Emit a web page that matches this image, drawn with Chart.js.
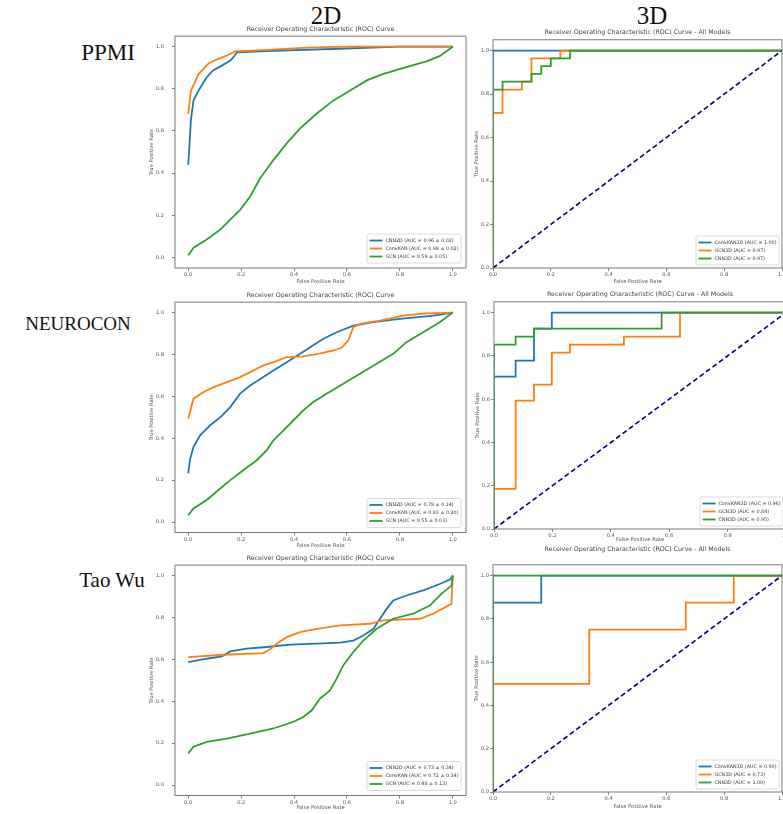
<!DOCTYPE html>
<html lang="en">
<head>
<meta charset="UTF-8">
<title>ROC curves 2D / 3D</title>
<script src="https://cdn.jsdelivr.net/npm/chart.js"></script>
<style>
  body { margin: 0; width: 783px; height: 814px; overflow: hidden; background: #fff; position: relative; }
  .lbl { position: absolute; font-family: "Liberation Serif", "Times New Roman", serif; color: #111;
         white-space: nowrap; transform: translate(-50%, -50%); line-height: 1; }
  canvas { position: absolute; }
</style>
</head>
<body>
<div class="lbl" style="left:326px; top:15px; font-size:25px;">2D</div>
<div class="lbl" style="left:652px; top:15px; font-size:25px;">3D</div>
<div class="lbl" style="left:108px; top:52px; font-size:23px;">PPMI</div>
<div class="lbl" style="left:78px; top:323px; font-size:19px;">NEUROCON</div>
<div class="lbl" style="left:112px; top:580px; font-size:21px;">Tao Wu</div>

<canvas id="ppmi2d"></canvas>
<canvas id="neuro2d"></canvas>
<canvas id="taowu2d"></canvas>
<canvas id="ppmi3d"></canvas>
<canvas id="neuro3d"></canvas>
<canvas id="taowu3d"></canvas>

<script>
// ---- data: [false positive rate, true positive rate] ----
const tickValues = [0, 0.2, 0.4, 0.6, 0.8, 1.0];
const diagonal = [[0, 0], [1, 1]];

const ppmi2D_CNN2D = [[0,0.44],[0.005,0.54],[0.01,0.65],[0.02,0.745],[0.043,0.80],[0.07,0.855],[0.094,0.887],[0.127,0.91],[0.159,0.934],[0.171,0.95],[0.184,0.973],[0.32,0.98],[0.57,0.99],[0.8,1.0],[1,1]];
const ppmi2D_ConvKAN = [[0,0.68],[0.01,0.79],[0.039,0.87],[0.077,0.92],[0.109,0.94],[0.146,0.958],[0.178,0.978],[0.3,0.985],[0.45,0.995],[0.6,1.0],[1,1]];
const ppmi2D_GCN = [[0,0.01],[0.02,0.046],[0.07,0.085],[0.121,0.132],[0.171,0.195],[0.196,0.226],[0.234,0.289],[0.272,0.376],[0.322,0.462],[0.372,0.541],[0.423,0.612],[0.486,0.683],[0.549,0.745],[0.612,0.792],[0.675,0.84],[0.738,0.871],[0.801,0.895],[0.9,0.93],[0.95,0.955],[1,1]];
const ppmi2D_labels = ['CNN2D (AUC = 0.96 ± 0.02)', 'ConvKAN (AUC = 0.98 ± 0.02)', 'GCN (AUC = 0.59 ± 0.05)'];

const neuro2D_CNN2D = [[0,0.232],[0.007,0.3],[0.02,0.359],[0.045,0.414],[0.083,0.462],[0.121,0.5],[0.159,0.549],[0.196,0.613],[0.234,0.652],[0.284,0.692],[0.322,0.724],[0.372,0.763],[0.423,0.803],[0.461,0.835],[0.511,0.875],[0.561,0.906],[0.624,0.938],[0.7,0.954],[0.8,0.97],[0.926,0.986],[1,1]];
const neuro2D_ConvKAN = [[0,0.494],[0.02,0.589],[0.058,0.621],[0.096,0.644],[0.146,0.668],[0.196,0.692],[0.234,0.716],[0.284,0.748],[0.322,0.763],[0.372,0.787],[0.429,0.79],[0.492,0.803],[0.549,0.819],[0.58,0.832],[0.605,0.867],[0.624,0.93],[0.649,0.946],[0.725,0.962],[0.813,0.986],[0.9,0.996],[1,1]];
const neuro2D_GCN = [[0,0.033],[0.02,0.065],[0.07,0.105],[0.121,0.16],[0.159,0.2],[0.209,0.248],[0.259,0.295],[0.297,0.343],[0.322,0.39],[0.36,0.438],[0.398,0.486],[0.435,0.533],[0.473,0.573],[0.523,0.613],[0.586,0.66],[0.649,0.708],[0.712,0.756],[0.775,0.803],[0.825,0.859],[0.888,0.906],[0.951,0.954],[1,1]];
const neuro2D_labels = ['CNN2D (AUC = 0.78 ± 0.14)', 'ConvKAN (AUC = 0.83 ± 0.20)', 'GCN (AUC = 0.55 ± 0.03)'];

const taowu2D_CNN2D = [[0,0.587],[0.07,0.603],[0.127,0.614],[0.159,0.638],[0.22,0.651],[0.297,0.659],[0.385,0.67],[0.486,0.675],[0.574,0.68],[0.624,0.69],[0.662,0.714],[0.7,0.746],[0.725,0.794],[0.75,0.841],[0.775,0.881],[0.825,0.905],[0.888,0.929],[0.951,0.96],[0.989,0.981],[1,1]];
const taowu2D_ConvKAN = [[0,0.611],[0.133,0.622],[0.284,0.63],[0.31,0.648],[0.335,0.675],[0.372,0.706],[0.423,0.73],[0.486,0.746],[0.574,0.762],[0.687,0.77],[0.737,0.786],[0.876,0.794],[0.926,0.818],[0.995,0.865],[1,1]];
const taowu2D_GCN = [[0,0.151],[0.02,0.183],[0.07,0.206],[0.146,0.222],[0.234,0.246],[0.322,0.27],[0.398,0.302],[0.435,0.325],[0.467,0.357],[0.498,0.413],[0.536,0.452],[0.561,0.508],[0.586,0.571],[0.624,0.635],[0.662,0.69],[0.712,0.746],[0.775,0.794],[0.85,0.818],[0.913,0.857],[0.957,0.913],[0.995,0.952],[1,1]];
const taowu2D_labels = ['CNN2D (AUC = 0.73 ± 0.34)', 'ConvKAN (AUC = 0.72 ± 0.34)', 'GCN (AUC = 0.48 ± 0.13)'];

const ppmi3D_ConvKAN3D = [[0,0],[0,1],[1,1]];
const ppmi3D_GCN3D = [[0,0],[0,0.714],[0.033,0.714],[0.033,0.821],[0.1,0.821],[0.1,0.857],[0.133,0.857],[0.133,0.964],[0.233,0.964],[0.233,1],[1,1]];
const ppmi3D_CNN3D = [[0,0],[0,0.821],[0.033,0.821],[0.033,0.857],[0.133,0.857],[0.133,0.893],[0.167,0.893],[0.167,0.929],[0.2,0.929],[0.2,0.964],[0.267,0.964],[0.267,1],[1,1]];
const ppmi3D_labels = ['ConvKAN3D (AUC = 1.00)', 'GCN3D (AUC = 0.97)', 'CNN3D (AUC = 0.97)'];

const neuro3D_ConvKAN3D = [[0,0],[0,0.704],[0.074,0.704],[0.074,0.778],[0.137,0.778],[0.137,0.926],[0.198,0.926],[0.198,1],[1,1]];
const neuro3D_GCN3D = [[0,0],[0,0.185],[0.074,0.185],[0.074,0.593],[0.137,0.593],[0.137,0.667],[0.198,0.667],[0.198,0.815],[0.26,0.815],[0.26,0.852],[0.445,0.852],[0.445,0.889],[0.637,0.889],[0.637,1],[1,1]];
const neuro3D_CNN3D = [[0,0],[0,0.852],[0.074,0.852],[0.074,0.889],[0.137,0.889],[0.137,0.926],[0.574,0.926],[0.574,1],[1,1]];
const neuro3D_labels = ['ConvKAN3D (AUC = 0.96)', 'GCN3D (AUC = 0.84)', 'CNN3D (AUC = 0.95)'];

const taowu3D_ConvKAN3D = [[0,0],[0,0.875],[0.167,0.875],[0.167,1],[1,1]];
const taowu3D_GCN3D = [[0,0],[0,0.5],[0.333,0.5],[0.333,0.75],[0.667,0.75],[0.667,0.875],[0.833,0.875],[0.833,1],[1,1]];
const taowu3D_CNN3D = [[0,0],[0,1],[1,1]];
const taowu3D_labels = ['ConvKAN3D (AUC = 0.90)', 'GCN3D (AUC = 0.73)', 'CNN3D (AUC = 1.00)'];

// ---- styling / layout ----
const FONT = "'DejaVu Sans', sans-serif";
const colors = ['#1f77b4', '#ff7f0e', '#2ca02c'];
const TITLE_SIZE = 6.3, TICK_SIZE = 5.2;

const columns = {
  '2D': { title: 'Receiver Operating Characteristic (ROC) Curve', xMin: -0.05, xMax: 1.05, yMin: -0.05, yMax: 1.05, yAxisW: 26, yTickPad: 8, padRight: 3, inset: 5 },
  '3D': { title: 'Receiver Operating Characteristic (ROC) Curve - All Models', xMin: 0, xMax: 1, yMin: 0, yMax: 1.05, yAxisW: 19, yTickPad: 1, padRight: 14, inset: 3 }
};

// frame = [left, top, right, bottom] of the axes box in page pixels
const panels = [
  { id: 'ppmi2d',  col: '2D', frame: [175, 35.4, 466, 268.6],  xAxisH: 17,   titlePad: 2.6,  series: [ppmi2D_CNN2D, ppmi2D_ConvKAN, ppmi2D_GCN],   labels: ppmi2D_labels },
  { id: 'neuro2d', col: '2D', frame: [175, 301.5, 466, 532.5], xAxisH: 16.5, titlePad: 2.6,  series: [neuro2D_CNN2D, neuro2D_ConvKAN, neuro2D_GCN], labels: neuro2D_labels },
  { id: 'taowu2d', col: '2D', frame: [175, 564.5, 466, 795.5], xAxisH: 15.5, titlePad: 2.6,  series: [taowu2D_CNN2D, taowu2D_ConvKAN, taowu2D_GCN], labels: taowu2D_labels },
  { id: 'ppmi3d',  col: '3D', frame: [493, 40, 782, 268],      xAxisH: 17,   titlePad: 3.2,  series: [ppmi3D_ConvKAN3D, ppmi3D_GCN3D, ppmi3D_CNN3D],   labels: ppmi3D_labels },
  { id: 'neuro3d', col: '3D', frame: [494, 302.2, 786, 529],   xAxisH: 14,   titlePad: 3.2,  series: [neuro3D_ConvKAN3D, neuro3D_GCN3D, neuro3D_CNN3D], labels: neuro3D_labels },
  { id: 'taowu3d', col: '3D', frame: [493, 565.2, 782, 792],   xAxisH: 18,   titlePad: 11.2, series: [taowu3D_ConvKAN3D, taowu3D_GCN3D, taowu3D_CNN3D], labels: taowu3D_labels }
];

// matplotlib-like box around the axes
const axesFrame = {
  id: 'axesFrame',
  afterDatasetsDraw(chart) {
    const { ctx, chartArea: a } = chart;
    ctx.save();
    ctx.strokeStyle = '#7a7a7a';
    ctx.lineWidth = 1;
    ctx.strokeRect(a.left, a.top, a.right - a.left, a.bottom - a.top);
    ctx.restore();
  }
};

// legend inside the plot, lower right
const boxLegend = {
  id: 'boxLegend',
  afterDatasetsDraw(chart, args, opts) {
    const { ctx, chartArea: a } = chart;
    const items = chart.data.datasets.filter(d => d.label);
    ctx.save();
    ctx.font = opts.fontSize + 'px ' + FONT;
    const textW = Math.max(...items.map(d => ctx.measureText(d.label).width));
    const w = opts.pad * 2 + opts.handle + opts.gap + textW;
    const h = opts.pad * 2 + opts.rowH * items.length;
    const x = a.right - opts.inset - w;
    const y = a.bottom - opts.inset - h;
    ctx.beginPath();
    if (ctx.roundRect) ctx.roundRect(x, y, w, h, 2); else ctx.rect(x, y, w, h);
    ctx.fillStyle = 'rgba(255,255,255,0.8)';
    ctx.fill();
    ctx.strokeStyle = '#d2d2d2';
    ctx.lineWidth = 0.8;
    ctx.stroke();
    ctx.textAlign = 'left';
    ctx.textBaseline = 'middle';
    items.forEach((d, i) => {
      const cy = y + opts.pad + opts.rowH * (i + 0.5);
      ctx.strokeStyle = d.borderColor;
      ctx.lineWidth = d.borderWidth;
      ctx.beginPath();
      ctx.moveTo(x + opts.pad, cy);
      ctx.lineTo(x + opts.pad + opts.handle, cy);
      ctx.stroke();
      ctx.fillStyle = '#333';
      ctx.fillText(d.label, x + opts.pad + opts.handle + opts.gap, cy);
    });
    ctx.restore();
  }
};

const toXY = pts => pts.map(p => ({ x: p[0], y: p[1] }));

function drawPanel(p) {
  const c = columns[p.col];
  const titleH = TITLE_SIZE * 1.2 + p.titlePad;
  const [fl, ft, fr, fb] = p.frame;
  const left = fl - c.yAxisW;
  const top = ft - titleH;
  const width = Math.round(fr + c.padRight - left);
  const height = Math.round(fb + p.xAxisH - top);
  const canvas = document.getElementById(p.id);
  canvas.width = width;
  canvas.height = height;
  canvas.style.left = left + 'px';
  canvas.style.top = top + 'px';

  const datasets = p.series.map((s, i) => ({
    label: p.labels[i],
    data: toXY(s),
    borderColor: colors[i],
    borderWidth: 1.8,
    pointRadius: 0,
    tension: 0,
    order: 10 - i
  }));
  if (p.col === '3D') {
    datasets.push({ data: toXY(diagonal), borderColor: '#000080', borderWidth: 1.6, borderDash: [5, 3], pointRadius: 0, order: 0 });
  }

  const tickFont = { family: FONT, size: TICK_SIZE };
  const tickGrid = { display: true, drawOnChartArea: false, drawTicks: true, tickLength: 3, tickColor: '#666', tickWidth: 0.8 };

  new Chart(canvas.getContext('2d'), {
    type: 'line',
    data: { datasets },
    options: {
      responsive: false,
      animation: false,
      events: [],
      layout: { padding: { left: 0, top: 0, bottom: 0, right: c.padRight } },
      scales: {
        x: {
          type: 'linear', min: c.xMin, max: c.xMax,
          afterBuildTicks: s => { s.ticks = tickValues.map(v => ({ value: v })); },
          afterFit: s => { s.height = p.xAxisH; },
          ticks: { font: tickFont, color: '#555', padding: 1, maxRotation: 0, autoSkip: false, callback: v => v.toFixed(1) },
          grid: tickGrid,
          border: { display: false },
          title: { display: true, text: 'False Positive Rate', font: tickFont, color: '#555', padding: 0 }
        },
        y: {
          type: 'linear', min: c.yMin, max: c.yMax,
          afterBuildTicks: s => { s.ticks = tickValues.map(v => ({ value: v })); },
          afterFit: s => { s.width = c.yAxisW; },
          ticks: { font: tickFont, color: '#555', padding: c.yTickPad, autoSkip: false, callback: v => v.toFixed(1) },
          grid: tickGrid,
          border: { display: false },
          title: { display: true, text: 'True Positive Rate', font: tickFont, color: '#555', padding: 0 }
        }
      },
      plugins: {
        legend: { display: false },
        tooltip: { enabled: false },
        title: {
          display: true, text: c.title, fullSize: false, color: '#444',
          font: { family: FONT, size: TITLE_SIZE, weight: 'normal' },
          padding: { top: 0, bottom: p.titlePad }
        },
        boxLegend: { fontSize: 4.8, rowH: 8, pad: 2.5, handle: 13, gap: 3, inset: c.inset }
      }
    },
    plugins: [axesFrame, boxLegend]
  });
}

panels.forEach(drawPanel);
</script>
</body>
</html>
